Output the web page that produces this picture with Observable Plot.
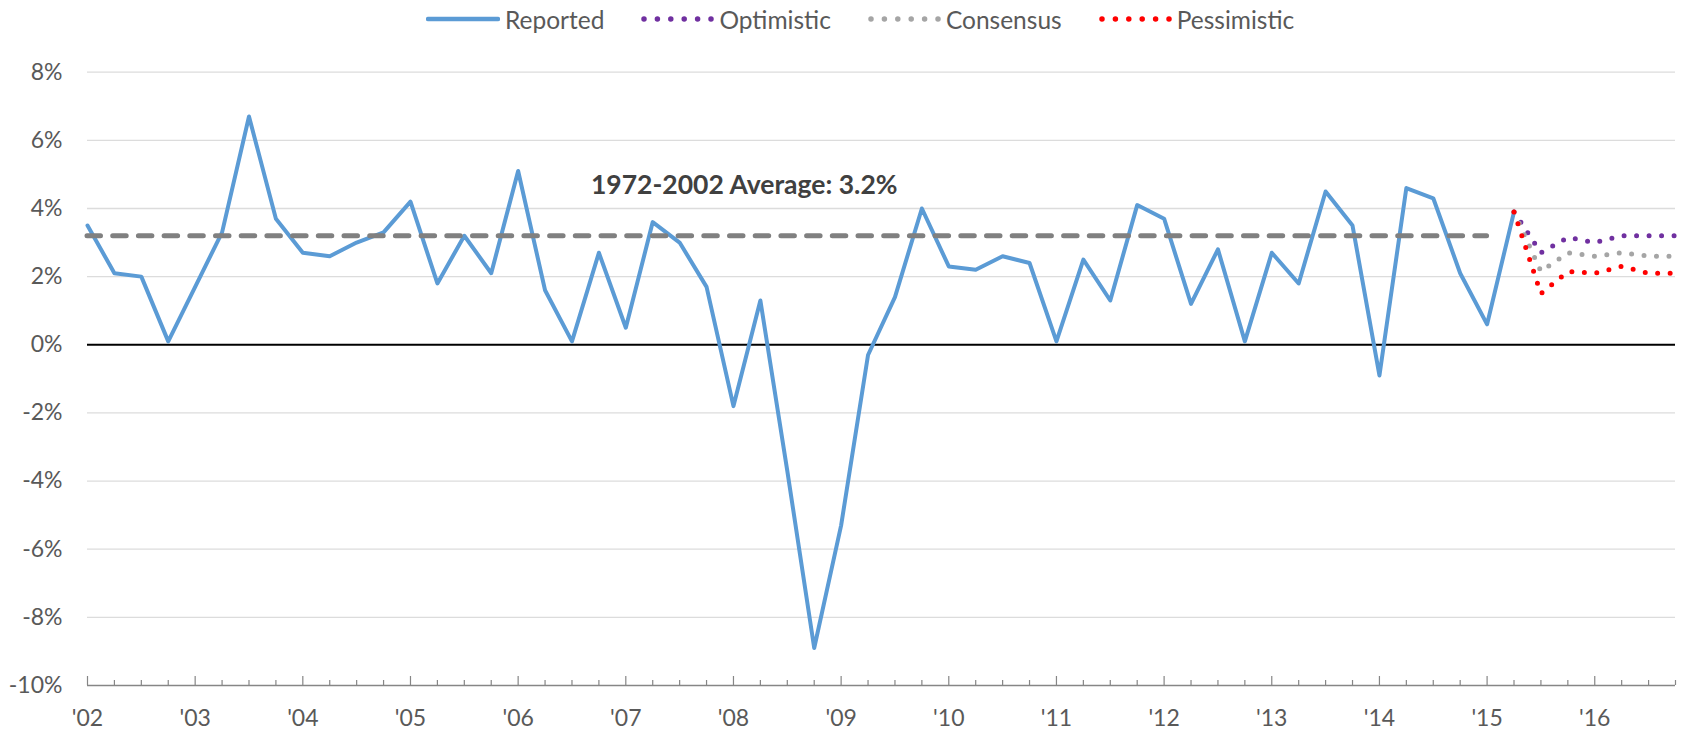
<!DOCTYPE html>
<html>
<head>
<meta charset="utf-8">
<script src="https://cdn.jsdelivr.net/npm/d3@7"></script>
<script src="https://cdn.jsdelivr.net/npm/@observablehq/plot@0.6"></script>
<style>
  html, body { margin: 0; padding: 0; background: #fff; }
  body { width: 1682px; height: 735px; overflow: hidden; font-family: Lato, sans-serif; }
  #legend { height: 38px; display: flex; align-items: center; padding-left: 426px; gap: 36px;
            font-size: 24.5px; color: #595959; box-sizing: border-box; }
  .item { display: flex; align-items: center; gap: 5px; }
  .item svg { display: block; }
  #chart svg { display: block; overflow: visible; }
</style>
</head>
<body>
<div id="legend"></div>
<div id="chart"></div>
<script>
// ---------- data ----------
const reportedStart = "2002Q1";
const reported = [
  3.5, 2.1, 2.0, 0.1,   // 2002
  1.7, 3.3, 6.7, 3.7,   // 2003
  2.7, 2.6, 3.0, 3.3,   // 2004
  4.2, 1.8, 3.2, 2.1,   // 2005
  5.1, 1.6, 0.1, 2.7,   // 2006
  0.5, 3.6, 3.0, 1.7,   // 2007
  -1.8, 1.3, -3.7, -8.9,// 2008
  -5.3, -0.3, 1.4, 4.0, // 2009
  2.3, 2.2, 2.6, 2.4,   // 2010
  0.1, 2.5, 1.3, 4.1,   // 2011
  3.7, 1.2, 2.8, 0.1,   // 2012
  2.7, 1.8, 4.5, 3.5,   // 2013
  -0.9, 4.6, 4.3, 2.1,  // 2014
  0.6, 3.9              // 2015
];
const forecastQuarters = ["2015Q2", "2015Q3", "2015Q4", "2016Q1", "2016Q2", "2016Q3", "2016Q4"];
const optimistic  = [3.9, 2.7, 3.15, 3.0, 3.2, 3.2, 3.2];
const consensus   = [3.9, 2.15, 2.7, 2.6, 2.7, 2.6, 2.6];
const pessimistic = [3.9, 1.5, 2.15, 2.1, 2.3, 2.1, 2.1];

const avgValue = 3.2;
const avgFrom = "2002Q1";
const avgTo = "2015Q1";
const avgLabel = "1972-2002 Average: 3.2%";
const avgLabelAt = {x: 2008.1, y: 4.66};

const axisFirst = "2002Q1";
const axisLast = "2016Q4";
const yearTicks = [2002, 2003, 2004, 2005, 2006, 2007, 2008, 2009, 2010, 2011, 2012, 2013, 2014, 2015, 2016];
const yearLabels = ["'02", "'03", "'04", "'05", "'06", "'07", "'08", "'09", "'10", "'11", "'12", "'13", "'14", "'15", "'16"];
const yTicks = [-10, -8, -6, -4, -2, 0, 2, 4, 6, 8];

const seriesNames = ["Reported", "Optimistic", "Consensus", "Pessimistic"];
const seriesColors = ["#5B9BD5", "#7030A0", "#A5A5A5", "#FF0000"];

// ---------- helpers ----------
function qNum(label) { const [y, q] = label.split("Q"); return +y + (+q - 1) / 4; }
const x0 = qNum(reportedStart);
const reportedData = reported.map((v, i) => ({x: x0 + i / 4, y: v}));
const fc = (arr) => arr.map((v, i) => ({x: qNum(forecastQuarters[i]), y: v}));
const quarterTicks = [];
for (let t = qNum(axisFirst); t <= qNum(axisLast) + 1e-9; t += 0.25) quarterTicks.push(t);
const minorTicks = quarterTicks.filter(t => Math.abs(t - Math.round(t)) > 1e-6);

// ---------- legend ----------
const legend = document.getElementById("legend");
seriesNames.forEach((name, i) => {
  const item = document.createElement("div");
  item.className = "item";
  const dotted = i > 0;
  item.innerHTML = `<svg width="74" height="20"><line x1="${dotted ? 4 : 2}" x2="${dotted ? 74 : 72}" y1="10" y2="10"
    stroke="${seriesColors[i]}" stroke-width="${dotted ? 5.5 : 4.5}" stroke-linecap="round"
    ${dotted ? 'stroke-dasharray="0 13.4"' : ''}></line></svg><span>${name}</span>`;
  legend.appendChild(item);
});

// ---------- chart ----------
const chart = Plot.plot({
  width: 1682,
  height: 697,
  marginLeft: 87,
  marginRight: 7,
  marginTop: 33.7,
  marginBottom: 50,
  x: {domain: [qNum(axisFirst), qNum(axisLast)], label: null},
  y: {domain: [yTicks[0], yTicks[yTicks.length - 1]], label: null},
  style: {fontFamily: "Lato, sans-serif", fontSize: "23px", color: "#595959", background: "#fff"},
  marks: [
    Plot.ruleY(yTicks.filter(d => d !== 0 && d !== yTicks[0]), {stroke: "#dcdcdc", strokeWidth: 1.3}),
    Plot.ruleY([yTicks[0]], {stroke: "#868686", strokeWidth: 1.5}),
    Plot.axisX(minorTicks, {tickSize: -5, tickFormat: () => "", stroke: "#868686", strokeWidth: 1.2, label: null}),
    Plot.axisX(yearTicks, {tickSize: -9, tickPadding: 33, stroke: "#868686", strokeWidth: 1.2, label: null,
      tickFormat: d => yearLabels[yearTicks.indexOf(d)], fill: "#595959"}),
    Plot.axisY(yTicks, {tickSize: 0, tickPadding: 25, tickFormat: d => d + "%", fill: "#595959", label: null}),
    Plot.ruleY([0], {stroke: "#000", strokeWidth: 2}),
    Plot.line(reportedData, {x: "x", y: "y", stroke: seriesColors[0], strokeWidth: 4,
      strokeLinejoin: "round", strokeLinecap: "round"}),
    Plot.ruleY([avgValue], {x1: qNum(avgFrom), x2: qNum(avgTo), stroke: "#808080", strokeWidth: 5,
      strokeDasharray: "13.5 12.2", strokeLinecap: "round"}),
    Plot.line(fc(optimistic), {x: "x", y: "y", stroke: seriesColors[1], strokeWidth: 5,
      strokeDasharray: "0 12.5", strokeLinecap: "round"}),
    Plot.line(fc(consensus), {x: "x", y: "y", stroke: seriesColors[2], strokeWidth: 5,
      strokeDasharray: "0 12.5", strokeLinecap: "round"}),
    Plot.line(fc(pessimistic), {x: "x", y: "y", stroke: seriesColors[3], strokeWidth: 5,
      strokeDasharray: "0 12.5", strokeLinecap: "round"}),
    Plot.text([avgLabel], {x: () => avgLabelAt.x, y: () => avgLabelAt.y, text: d => d,
      fontWeight: "bold", fill: "#404040", fontSize: 26.5, textAnchor: "middle"})
  ]
});
document.getElementById("chart").appendChild(chart);
</script>
</body>
</html>
